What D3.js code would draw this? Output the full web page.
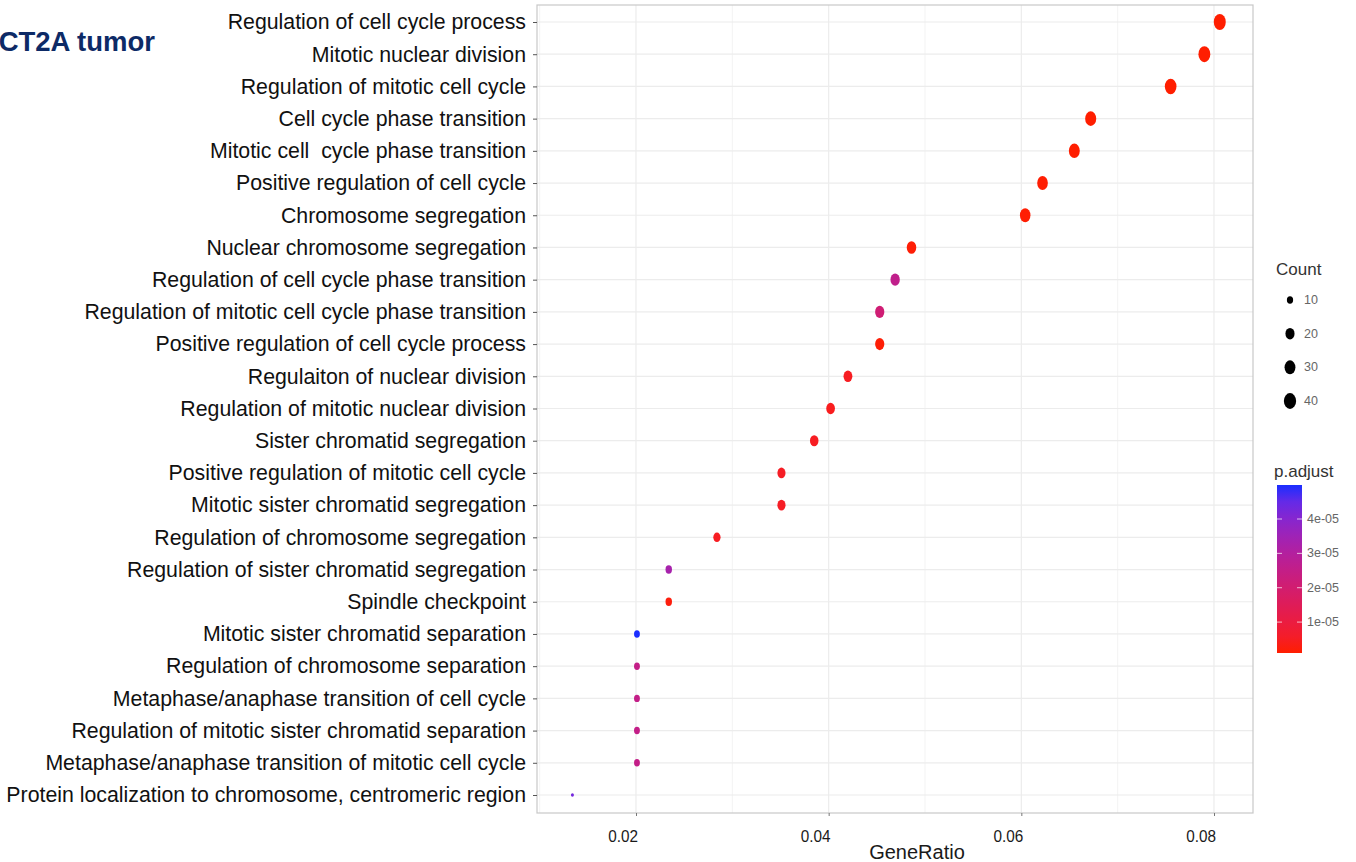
<!DOCTYPE html>
<html>
<head>
<meta charset="utf-8">
<script src="https://cdn.jsdelivr.net/npm/d3@7"></script>
<style>
  body { margin: 0; background: #fff; }
  svg { display: block; font-family: "Liberation Sans", Arial, sans-serif; }
</style>
</head>
<body>
<div id="plot"></div>
<script>
// GO terms, top to bottom
const terms = [
  "Regulation of cell cycle process",
  "Mitotic nuclear division",
  "Regulation of mitotic cell cycle",
  "Cell cycle phase transition",
  "Mitotic cell  cycle phase transition",
  "Positive regulation of cell cycle",
  "Chromosome segregation",
  "Nuclear chromosome segregation",
  "Regulation of cell cycle phase transition",
  "Regulation of mitotic cell cycle phase transition",
  "Positive regulation of cell cycle process",
  "Regulaiton of nuclear division",
  "Regulation of mitotic nuclear division",
  "Sister chromatid segregation",
  "Positive regulation of mitotic cell cycle",
  "Mitotic sister chromatid segregation",
  "Regulation of chromosome segregation",
  "Regulation of sister chromatid segregation",
  "Spindle checkpoint",
  "Mitotic sister chromatid separation",
  "Regulation of chromosome separation",
  "Metaphase/anaphase transition of cell cycle",
  "Regulation of mitotic sister chromatid separation",
  "Metaphase/anaphase transition of mitotic cell cycle",
  "Protein localization to chromosome, centromeric region"
];
const geneRatio = [0.0806, 0.0790, 0.0755, 0.0672, 0.0655, 0.0622, 0.0604, 0.0486, 0.0469, 0.0453,
                   0.0453, 0.0420, 0.0402, 0.0385, 0.0351, 0.0351, 0.0284, 0.0234, 0.0234, 0.0201,
                   0.0201, 0.0201, 0.0201, 0.0201, 0.0134];
const counts = [48, 47, 45, 40, 39, 37, 36, 29, 28, 27, 27, 25, 24, 23, 21, 21, 17, 14, 14, 12,
                12, 12, 12, 12, 8];
const pAdjust = [1.0e-6, 1.0e-6, 1.0e-6, 1.0e-6, 1.0e-6, 1.2e-6, 1.2e-6, 1.5e-6, 2.6e-5, 2.1e-5,
                 1.5e-6, 4.5e-6, 4.0e-6, 4.5e-6, 5.0e-6, 5.0e-6, 4.5e-6, 3.3e-5, 2.0e-6, 4.99e-5,
                 2.5e-5, 2.5e-5, 2.5e-5, 2.5e-5, 4.3e-5];
const xTicks = [0.02, 0.04, 0.06, 0.08];
const xMinor = [0.01, 0.03, 0.05, 0.07];
const countBreaks = [10, 20, 30, 40];
const pBreaks = [1e-5, 2e-5, 3e-5, 4e-5];
const pBreakLabels = ["1e-05", "2e-05", "3e-05", "4e-05"];

const data = terms.map((t, i) => ({term: t, ratio: geneRatio[i], count: counts[i], p: pAdjust[i]}));

const width = 1356, height = 862;
const panel = {left: 537, right: 1253, top: 5, bottom: 813};

const svg = d3.create("svg")
    .attr("width", width)
    .attr("height", height)
    .attr("viewBox", [0, 0, width, height]);

const x = d3.scaleLinear().domain([0.02, 0.08]).range([636, 1214]);
const y = d3.scalePoint().domain(terms).range([22, 795]);

// size like ggplot area palette, range 1..6
const sRescale = d3.scaleLinear().domain(d3.extent(counts)).range([0, 1]);
const sizeOf = c => 1 + 5 * Math.sqrt(Math.max(0, sRescale(c)));
const rx = c => sizeOf(c) * 0.9 + 0.6;
const ry = c => sizeOf(c) * 1.25 + 0.5;

const color = d3.scaleLinear()
    .domain(d3.extent(pAdjust))
    .range(["#ff1e00", "#1a2eff"])
    .interpolate(d3.interpolateLab);

// panel + grid
svg.append("rect")
    .attr("x", panel.left).attr("y", panel.top)
    .attr("width", panel.right - panel.left).attr("height", panel.bottom - panel.top)
    .attr("fill", "#fff");

svg.append("g").selectAll("line")
    .data(xMinor)
    .join("line")
    .attr("x1", d => x(d)).attr("x2", d => x(d))
    .attr("y1", panel.top).attr("y2", panel.bottom)
    .attr("stroke", "#f3f3f3").attr("stroke-width", 1);

svg.append("g").selectAll("line")
    .data(xTicks)
    .join("line")
    .attr("x1", d => x(d)).attr("x2", d => x(d))
    .attr("y1", panel.top).attr("y2", panel.bottom)
    .attr("stroke", "#ececec").attr("stroke-width", 1.2);

svg.append("g").selectAll("line")
    .data(terms)
    .join("line")
    .attr("x1", panel.left).attr("x2", panel.right)
    .attr("y1", d => y(d)).attr("y2", d => y(d))
    .attr("stroke", "#ececec").attr("stroke-width", 1.2);

svg.append("rect")
    .attr("x", panel.left).attr("y", panel.top)
    .attr("width", panel.right - panel.left).attr("height", panel.bottom - panel.top)
    .attr("fill", "none")
    .attr("stroke", "#c8c8c8").attr("stroke-width", 1.2);

// points
svg.append("g").selectAll("ellipse")
    .data(data)
    .join("ellipse")
    .attr("cx", d => x(d.ratio))
    .attr("cy", d => y(d.term))
    .attr("rx", d => rx(d.count))
    .attr("ry", d => ry(d.count))
    .attr("fill", d => color(d.p));

// y axis
const yAxis = svg.append("g")
    .attr("transform", `translate(${panel.left},0)`)
    .call(d3.axisLeft(y).tickSize(4).tickPadding(7));
yAxis.select(".domain").remove();
yAxis.selectAll(".tick line").attr("stroke", "#555");
yAxis.selectAll(".tick text")
    .attr("font-size", 21.3)
    .attr("font-family", "Liberation Sans, Arial, sans-serif")
    .attr("fill", "#111")
    .style("white-space", "pre");

// x axis
const xAxis = svg.append("g")
    .attr("transform", `translate(0,${panel.bottom})`)
    .call(d3.axisBottom(x).tickValues(xTicks).tickSize(3).tickFormat(() => ""));
xAxis.select(".domain").remove();
xAxis.selectAll(".tick line").attr("stroke", "#777");

svg.append("g").selectAll("text")
    .data(xTicks)
    .join("text")
    .attr("transform", d => `translate(${x(d) - 13},842) scale(0.9,1)`)
    .attr("text-anchor", "middle")
    .attr("font-size", 17)
    .attr("fill", "#1a1a1a")
    .text(d => d3.format(".2f")(d));

svg.append("text")
    .attr("x", 917).attr("y", 859)
    .attr("text-anchor", "middle")
    .attr("font-size", 20)
    .attr("fill", "#1a1a1a")
    .text("GeneRatio");

// title (cut at left edge)
svg.append("text")
    .attr("x", 155).attr("y", 51)
    .attr("text-anchor", "end")
    .attr("font-size", 27.5)
    .attr("font-weight", "bold")
    .attr("fill", "#0d2a66")
    .text("CT2A tumor");

// Count legend
const narrow = "Liberation Sans Narrow, Liberation Sans, Arial, sans-serif";
svg.append("text")
    .attr("x", 1276).attr("y", 275)
    .attr("font-size", 17).attr("font-family", narrow)
    .attr("fill", "#333")
    .text("Count");
const ly = d3.scaleLinear().domain([10, 40]).range([300, 401]);
svg.append("g").selectAll("ellipse")
    .data(countBreaks)
    .join("ellipse")
    .attr("cx", 1290)
    .attr("cy", d => ly(d))
    .attr("rx", d => rx(d) + 0.6)
    .attr("ry", d => ry(d) + 0.6)
    .attr("fill", "#000");
svg.append("g").selectAll("text")
    .data(countBreaks)
    .join("text")
    .attr("x", 1304)
    .attr("y", d => ly(d) + 4)
    .attr("font-size", 12.5).attr("font-family", narrow)
    .attr("fill", "#666")
    .text(d => d);

// p.adjust legend
svg.append("text")
    .attr("x", 1274).attr("y", 477)
    .attr("font-size", 17).attr("font-family", narrow)
    .attr("fill", "#333")
    .text("p.adjust");

const pDom = d3.extent(pAdjust);
const py = d3.scaleLinear().domain(pDom).range([653, 485]);
const grad = svg.append("defs").append("linearGradient")
    .attr("id", "pgrad")
    .attr("x1", 0).attr("y1", 1).attr("x2", 0).attr("y2", 0);
d3.range(0, 1.0001, 0.1).forEach(t => {
  grad.append("stop")
      .attr("offset", t)
      .attr("stop-color", color(pDom[0] + t * (pDom[1] - pDom[0])));
});
svg.append("rect")
    .attr("x", 1277).attr("y", 485)
    .attr("width", 25).attr("height", 168)
    .attr("fill", "url(#pgrad)");
svg.append("g").selectAll("line")
    .data(pBreaks.flatMap(v => [[v, 1277], [v, 1297]]))
    .join("line")
    .attr("x1", d => d[1]).attr("x2", d => d[1] + 5)
    .attr("y1", d => py(d[0])).attr("y2", d => py(d[0]))
    .attr("stroke", "#fff").attr("stroke-opacity", 0.7);
svg.append("g").selectAll("text")
    .data(pBreaks)
    .join("text")
    .attr("x", 1307)
    .attr("y", d => py(d) + 4)
    .attr("font-size", 12.5).attr("font-family", narrow)
    .attr("fill", "#666")
    .text((d, i) => pBreakLabels[i]);

document.getElementById("plot").appendChild(svg.node());
</script>
</body>
</html>
